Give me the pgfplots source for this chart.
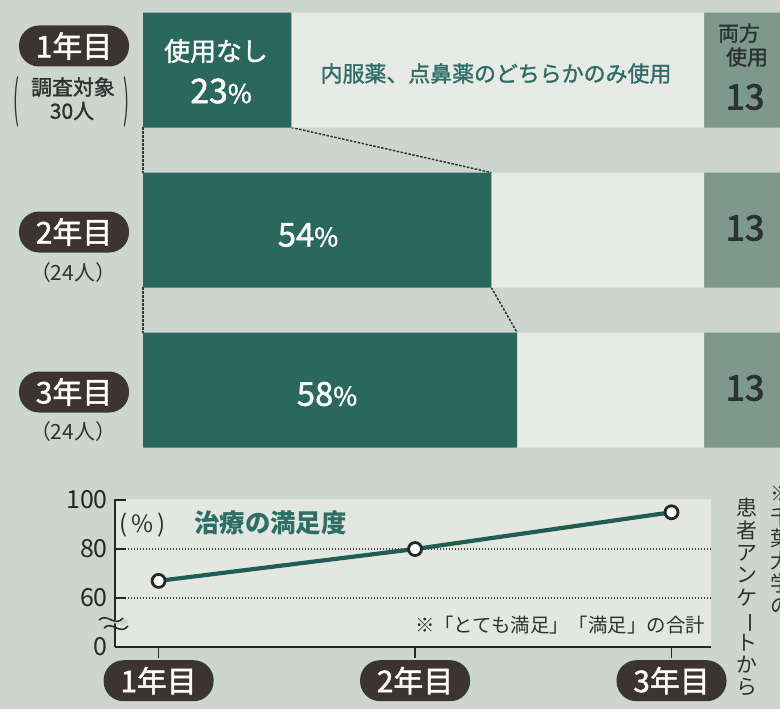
\documentclass[border=0pt]{standalone}
\usepackage{pgfplots}
\pgfplotsset{compat=1.18}
\usepackage{fontspec}
\setmainfont{Noto Sans CJK JP}
\newfontfamily\med{Noto Sans CJK JP}[FakeBold=1.4]
\newfontfamily\semib{Noto Sans CJK JP}[FakeBold=2.6]
\definecolor{bg}{HTML}{CDD6CE}
\definecolor{darkteal}{HTML}{2A685E}
\definecolor{lightseg}{HTML}{E8EBE5}
\definecolor{greyseg}{HTML}{7D998E}
\definecolor{tealtext}{HTML}{2D6E66}
\definecolor{pill}{HTML}{3C3430}
\definecolor{plotbg}{HTML}{E4E7E0}
\definecolor{linecol}{HTML}{1F5E55}
\definecolor{darktext}{HTML}{2B3330}
\newcommand{\fs}[1]{\fontsize{#1}{#1}\selectfont}
\tikzset{yearpill/.style={fill=pill, text=white, rounded corners=20bp, minimum width=110bp, minimum height=41bp, inner sep=0pt, font=\med\fs{30}}}

\begin{document}
\begin{tikzpicture}[x=1bp,y=-1bp]
\useasboundingbox (0,0) rectangle (780,709);
\clip (0,0) rectangle (780,709);
\fill[bg] (0,0) rectangle (780,709);

% ---------------- stacked bars ----------------
\begin{axis}[
  at={(143bp,-470bp)}, anchor=south west,
  scale only axis, width=645bp, height=480bp,
  xbar stacked, bar width=115bp,
  xmin=0, xmax=100, ymin=0.5, ymax=3.5, y dir=reverse,
  axis lines=none, ytick=\empty, xtick=\empty,
  clip=false,
]
\addplot[fill=darkteal, draw=none] coordinates {(23,1) (54,2) (58,3)};
\addplot[fill=lightseg, draw=none] coordinates {(64,1) (33,2) (29,3)};
\addplot[fill=greyseg, draw=none] coordinates {(13,1) (13,2) (13,3)};
\draw[black!80, line width=1.5bp, dash pattern=on 2.5bp off 1.5bp] (axis cs:23,1.359) -- (axis cs:54,1.641);
\draw[black!80, line width=1.5bp, dash pattern=on 2.5bp off 1.5bp] (axis cs:0,1.359) -- (axis cs:0,1.641);
\draw[black!80, line width=1.5bp, dash pattern=on 2.5bp off 1.5bp] (axis cs:54,2.359) -- (axis cs:58,2.641);
\draw[black!80, line width=1.5bp, dash pattern=on 2.5bp off 1.5bp] (axis cs:0,2.359) -- (axis cs:0,2.641);
\end{axis}

% labels on the bars
\node[text=white, font=\med\fs{26}] at (216,51) {使用なし};
\node[text=white, font=\med] at (221,91) {\fs{34}23\fs{26}\%};
\node[text=tealtext, font=\med\fs{22}] at (496,73.5) {内服薬、点鼻薬のどちらかのみ使用};
\node[text=darktext, font=\med\fs{21}] at (739,33) {両方};
\node[text=darktext, font=\med\fs{21}] at (747,57) {使用};
\node[text=darktext, font=\semib\fs{35}] at (745,97) {13};
\node[text=white, font=\med] at (308,235) {\fs{33}54\fs{26}\%};
\node[text=darktext, font=\semib\fs{35}] at (745,228) {13};
\node[text=white, font=\med] at (327,394) {\fs{33}58\fs{26}\%};
\node[text=darktext, font=\semib\fs{35}] at (745,388) {13};

% year labels
\node[yearpill] at (74,46) {1年目};
\node[text=darktext, font=\med\fs{21}] at (73,87) {調査対象};
\node[text=darktext, font=\med\fs{21}] at (72,111) {30人};
\node[text=darktext, font=\fs{22}] at (16,102) {\scalebox{0.8}[2.3]{(}};
\node[text=darktext, font=\fs{22}] at (126,102) {\scalebox{0.8}[2.3]{)}};
\node[yearpill] at (74,232) {2年目};
\node[text=darktext, font=\fs{21}] at (73,273) {（24人）};
\node[yearpill] at (74,392) {3年目};
\node[text=darktext, font=\fs{21}] at (73,432) {（24人）};

% ---------------- line chart ----------------
\begin{axis}[
  at={(115bp,-647bp)}, anchor=south west,
  scale only axis, width=596bp, height=148.2bp,
  xmin=0.83, xmax=3.154, ymin=40, ymax=100.5,
  axis x line=bottom, axis y line=left,
  axis line style={-, draw=black!85, line width=1.3bp},
  axis background/.style={fill=plotbg},
  xtick={1,2,3}, xticklabels={1年目,2年目,3年目},
  ytick={40,60,80,100}, yticklabels={0,60,80,100},
  tick align=inside, major tick length=11bp,
  tick style={draw=black!85, line width=1.3bp},
  xtick style={yshift=-11bp},
  /pgf/number format/assume math mode=true,
  yticklabel style={font=\fs{25}, text=black!85, inner sep=0pt, xshift=-7bp},
  xticklabel style={yearpill, anchor=north, yshift=-13bp},
  clip=false,
]
\draw[black!75, line width=2bp, dash pattern=on 1.5bp off 1.5bp] (axis cs:0.88,80) -- (axis cs:3.154,80);
\draw[black!75, line width=2bp, dash pattern=on 1.5bp off 1.5bp] (axis cs:0.88,60) -- (axis cs:3.154,60);
\addplot[linecol, line width=4.2bp, mark=*, mark size=6.5bp,
  mark options={fill=white, draw=black!85, line width=2.8bp}]
  coordinates {(1,67) (2,80) (3,95)};
\end{axis}

% axis break mark
\fill[bg] (99,619) .. controls (107,611) and (115,627) .. (123,617) -- (129,622) .. controls (121,632) and (113,616) .. (105,626) -- cycle;
\draw[black!85, line width=1.5bp] (99,620) .. controls (107,612) and (115,628) .. (123,618);
\draw[black!85, line width=1.5bp] (104,628) .. controls (112,620) and (120,636) .. (128,626);

\node[text=darktext, font=\fs{24}] at (143,525) {(\,\%\,)};
\node[text=tealtext, font=\bfseries\fs{25.5}] at (270.5,522.5) {治療の満足度};
\node[text=darktext, font=\fs{19.5}] at (560,625) {※「とても満足」「満足」の合計};

% vertical source note
\node[text=darktext, font=\fs{21}\linespread{1.07}\selectfont, align=center, anchor=north, inner sep=0pt] at (747,498)
  {患\\者\\ア\\ン\\ケ\\\rotatebox[origin=c]{-90}{ー}\\ト\\か\\ら};
\node[text=darktext, font=\fs{21}\linespread{1.07}\selectfont, align=center, anchor=north, inner sep=0pt] at (781,486)
  {※\\千\\葉\\大\\学\\の};
\end{tikzpicture}
\end{document}
